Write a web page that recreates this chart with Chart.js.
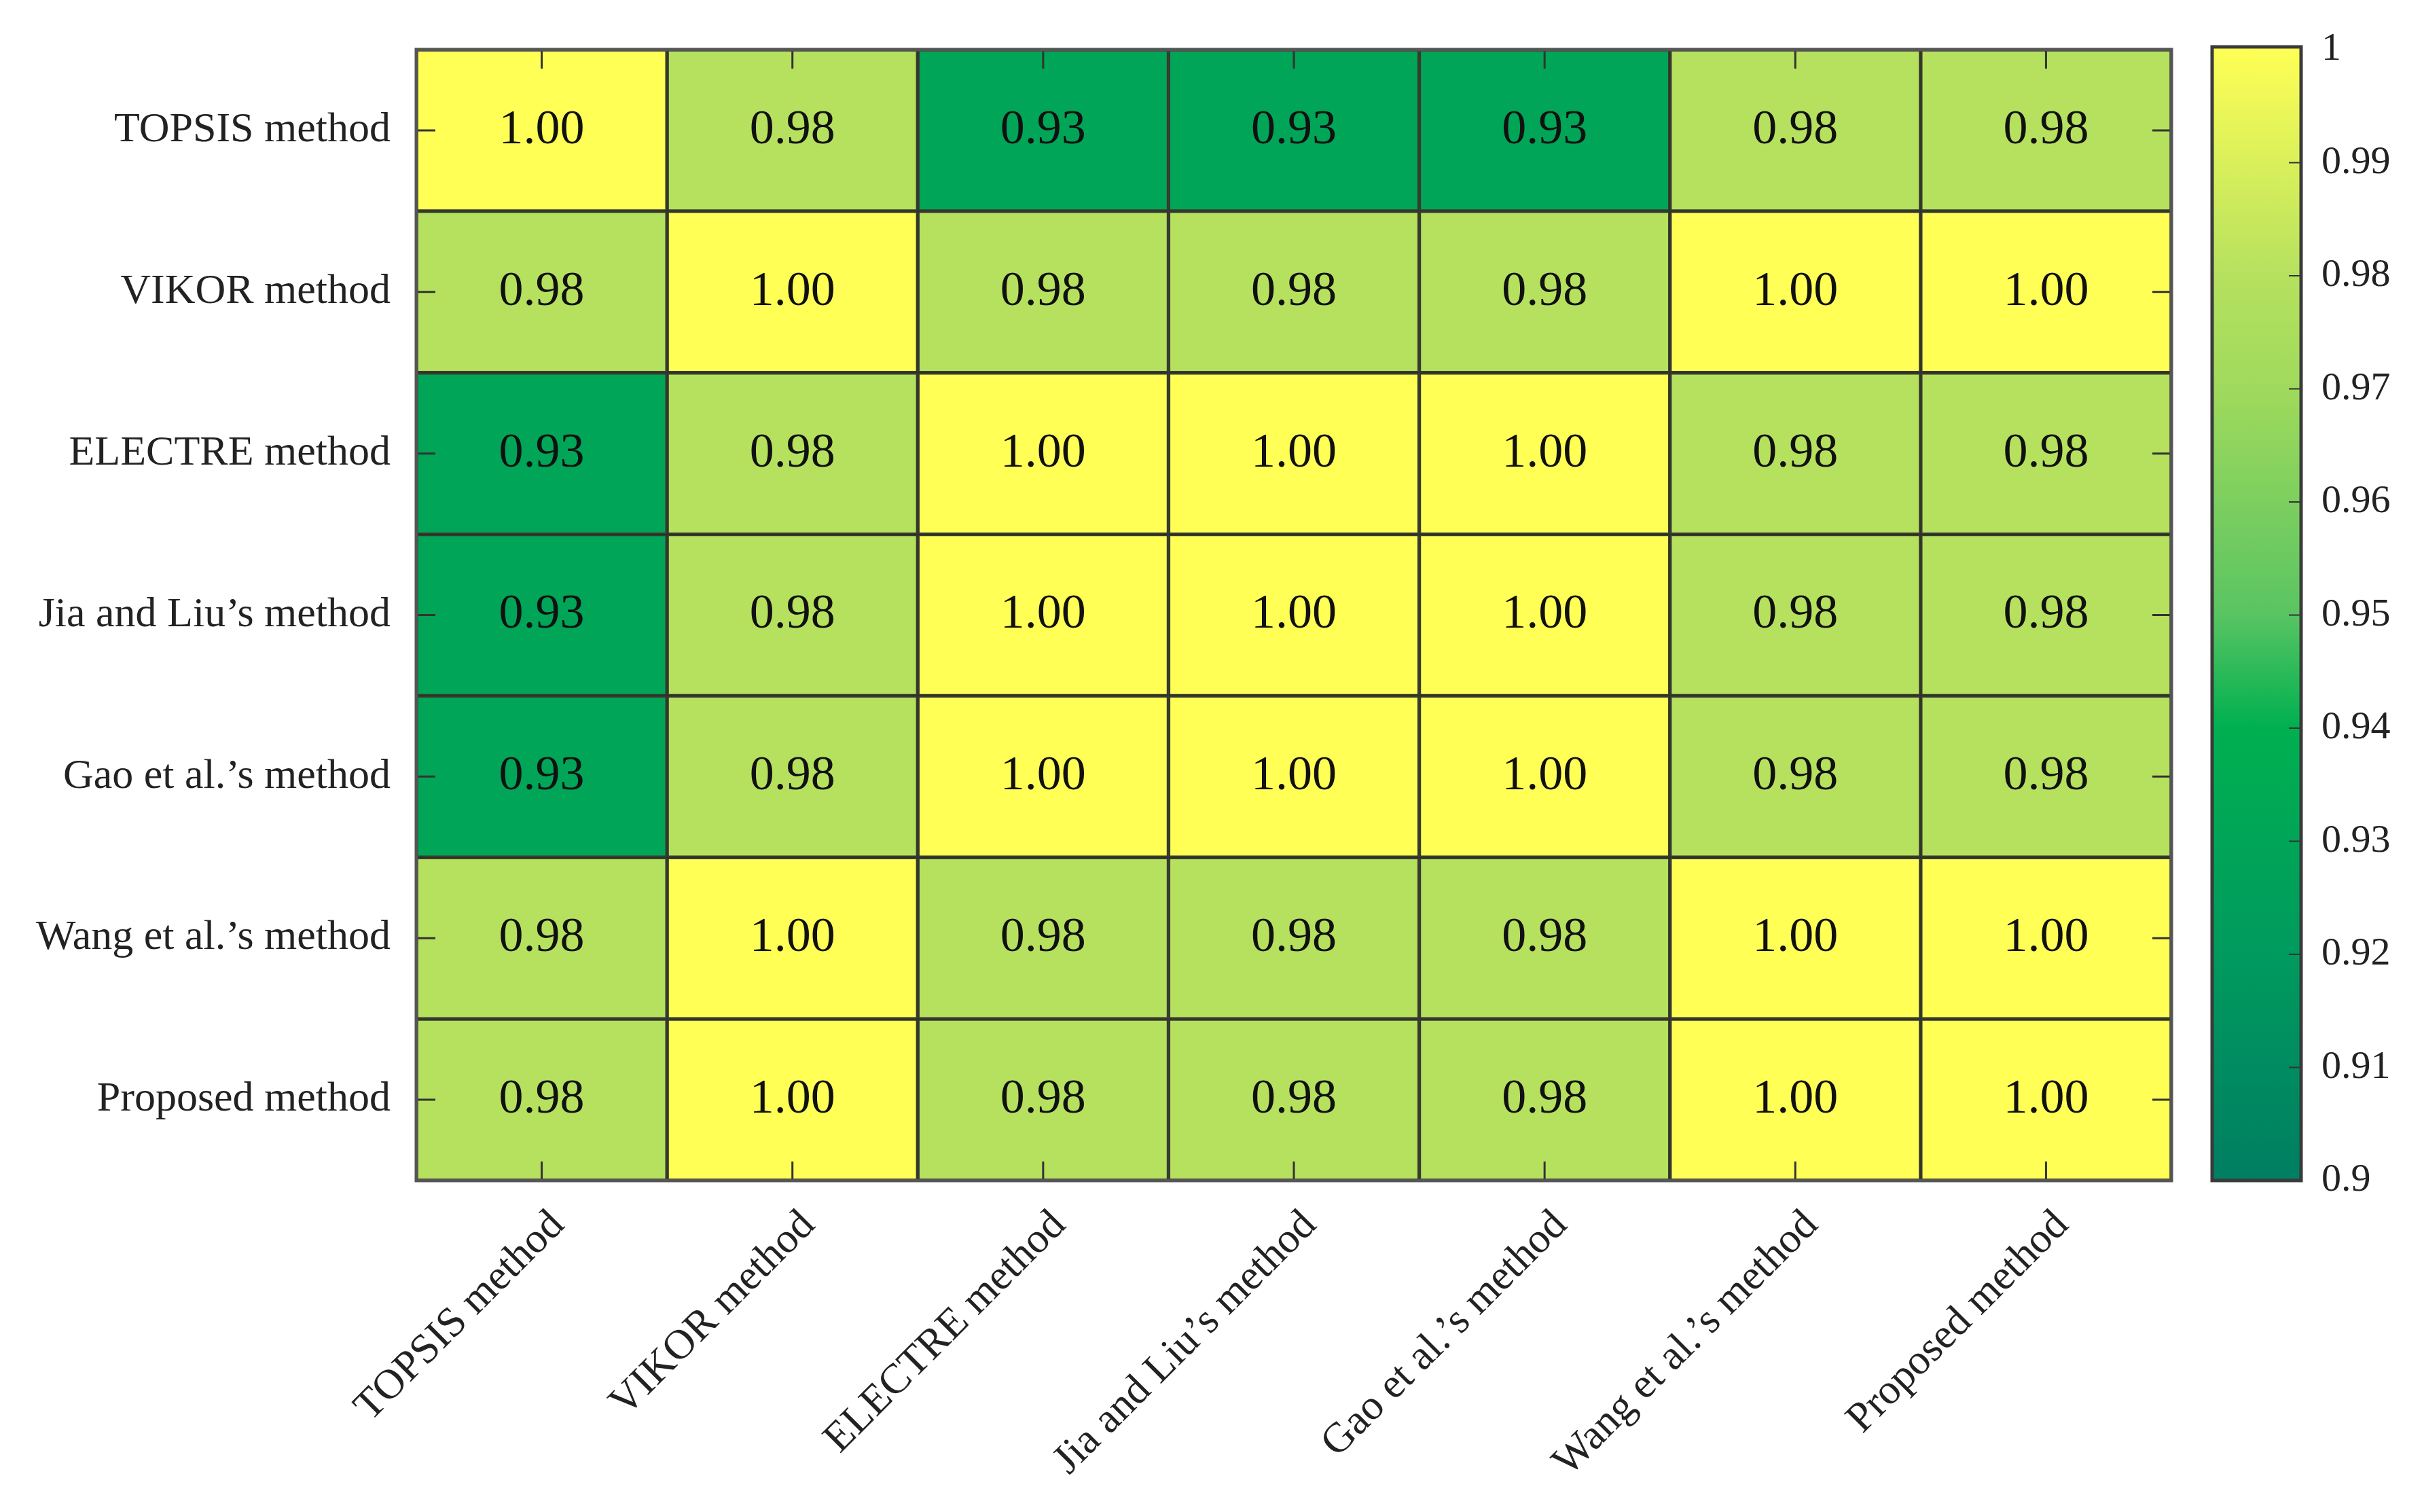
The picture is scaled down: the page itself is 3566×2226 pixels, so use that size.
<!DOCTYPE html>
<html>
<head>
<meta charset="utf-8">
<script src="https://cdn.jsdelivr.net/npm/chart.js@4.4.1/dist/chart.umd.min.js"></script>
<style>
  html, body { margin: 0; padding: 0; background: #fff; }
  canvas { display: block; }
</style>
</head>
<body>
<canvas id="heat" width="3566" height="2226"></canvas>
<script>
// methods, top row first (same order on both axes)
const methods = ['TOPSIS method', 'VIKOR method', 'ELECTRE method', 'Jia and Liu\u2019s method',
                 'Gao et al.\u2019s method', 'Wang et al.\u2019s method', 'Proposed method'];

// similarity values, one array per row
const topsisRow   = [1.00, 0.98, 0.93, 0.93, 0.93, 0.98, 0.98];
const vikorRow    = [0.98, 1.00, 0.98, 0.98, 0.98, 1.00, 1.00];
const electreRow  = [0.93, 0.98, 1.00, 1.00, 1.00, 0.98, 0.98];
const jiaLiuRow   = [0.93, 0.98, 1.00, 1.00, 1.00, 0.98, 0.98];
const gaoRow      = [0.93, 0.98, 1.00, 1.00, 1.00, 0.98, 0.98];
const wangRow     = [0.98, 1.00, 0.98, 0.98, 0.98, 1.00, 1.00];
const proposedRow = [0.98, 1.00, 0.98, 0.98, 0.98, 1.00, 1.00];
const rows = [topsisRow, vikorRow, electreRow, jiaLiuRow, gaoRow, wangRow, proposedRow];

// colour bar
const cbTicks  = [0.9, 0.91, 0.92, 0.93, 0.94, 0.95, 0.96, 0.97, 0.98, 0.99, 1];
const cbLabels = ['0.9', '0.91', '0.92', '0.93', '0.94', '0.95', '0.96', '0.97', '0.98', '0.99', '1'];
const cbStops = [
  [0.90, [0, 126, 98]],
  [0.92, [0, 154, 94]],
  [0.94, [0, 176, 80]],
  [0.95, [90, 196, 98]],
  [0.97, [160, 218, 92]],
  [0.98, [182, 225, 95]],
  [1.00, [255, 255, 85]]
];

function colorFor(v) {
  if (v <= cbStops[0][0]) return 'rgb(' + cbStops[0][1].join(',') + ')';
  for (let i = 1; i < cbStops.length; i++) {
    const a = cbStops[i - 1], b = cbStops[i];
    if (v <= b[0] + 1e-9) {
      const t = (v - a[0]) / (b[0] - a[0]);
      const c = a[1].map((x, k) => Math.round(x + (b[1][k] - x) * t));
      return 'rgb(' + c.join(',') + ')';
    }
  }
  return 'rgb(' + cbStops[cbStops.length - 1][1].join(',') + ')';
}

const serif = 'Liberation Serif';
const textCol = '#222';

const datasets = rows.map((row, r) => ({
  label: methods[r],
  data: row.map(() => [r - 0.5, r + 0.5]),
  values: row,
  backgroundColor: row.map(colorFor),
  borderColor: 'rgba(20,25,10,0.85)',
  borderWidth: 3,
  borderSkipped: false,
  barPercentage: 1,
  categoryPercentage: 1,
  grouped: false
}));

const cellText = {
  id: 'cellText',
  afterDatasetsDraw(chart) {
    const ctx = chart.ctx;
    ctx.save();
    ctx.font = '72px "' + serif + '"';
    ctx.fillStyle = '#111';
    ctx.textAlign = 'center';
    ctx.textBaseline = 'middle';
    chart.data.datasets.forEach((ds, di) => {
      chart.getDatasetMeta(di).data.forEach((bar, i) => {
        ctx.fillText(ds.values[i].toFixed(2), bar.x, (bar.y + bar.base) / 2);
      });
    });
    ctx.restore();
  }
};

const frame = {
  id: 'frame',
  afterDraw(chart) {
    const ctx = chart.ctx;
    const a = chart.chartArea;
    const xs = chart.scales.x, ys = chart.scales.y, cb = chart.scales.cb;
    ctx.save();
    // inner ticks of the heat map
    ctx.strokeStyle = '#333';
    ctx.lineWidth = 3;
    ctx.beginPath();
    methods.forEach((m, i) => {
      const x = xs.getPixelForValue(i);
      ctx.moveTo(x, a.top); ctx.lineTo(x, a.top + 28);
      ctx.moveTo(x, a.bottom); ctx.lineTo(x, a.bottom - 28);
      const y = ys.getPixelForValue(i);
      ctx.moveTo(a.left, y); ctx.lineTo(a.left + 28, y);
      ctx.moveTo(a.right, y); ctx.lineTo(a.right - 28, y);
    });
    ctx.stroke();
    ctx.strokeStyle = '#555';
    ctx.lineWidth = 5;
    ctx.strokeRect(a.left, a.top, a.right - a.left, a.bottom - a.top);

    // colour bar
    const x0 = a.right + 60, x1 = a.right + 191;
    const yTop = cb.getPixelForValue(1) - 4, yBot = cb.getPixelForValue(0.9);
    const g = ctx.createLinearGradient(0, yBot, 0, yTop);
    cbStops.forEach(s => g.addColorStop((s[0] - 0.9) / 0.1, 'rgb(' + s[1].join(',') + ')'));
    ctx.fillStyle = g;
    ctx.fillRect(x0, yTop, x1 - x0, yBot - yTop);
    ctx.strokeStyle = '#333';
    ctx.lineWidth = 2;
    ctx.beginPath();
    cbTicks.slice(1, -1).forEach(v => {
      const y = cb.getPixelForValue(v);
      ctx.moveTo(x1, y); ctx.lineTo(x1 - 18, y);
    });
    ctx.stroke();
    ctx.lineWidth = 5;
    ctx.strokeStyle = '#3a3a3a';
    ctx.strokeRect(x0, yTop, x1 - x0, yBot - yTop);
    ctx.restore();
  }
};

function noPad(s) {
  s.paddingTop = 0; s.paddingBottom = 0; s.paddingLeft = 0; s.paddingRight = 0;
}

new Chart(document.getElementById('heat'), {
  type: 'bar',
  data: { labels: methods, datasets: datasets },
  options: {
    responsive: false,
    devicePixelRatio: 1,
    animation: false,
    layout: { padding: { top: 73, left: 0, right: 0, bottom: 0 } },
    plugins: { legend: { display: false }, tooltip: { enabled: false } },
    scales: {
      x: {
        type: 'category',
        grid: { display: false },
        border: { display: false },
        ticks: {
          autoSkip: false,
          maxRotation: 45,
          minRotation: 45,
          padding: 22,
          labelOffset: 24,
          color: textCol,
          font: { family: serif, size: 62 }
        },
        afterFit(s) { s.height = 488; noPad(s); }
      },
      y: {
        type: 'linear',
        reverse: true,
        min: -0.5,
        max: 6.5,
        grid: { display: false },
        border: { display: false },
        afterBuildTicks(s) { s.ticks = methods.map((m, i) => ({ value: i })); },
        ticks: {
          padding: 30,
          color: textCol,
          font: { family: serif, size: 62 },
          callback: v => methods[v]
        },
        afterFit(s) { s.width = 613; noPad(s); }
      },
      cb: {
        type: 'linear',
        position: 'right',
        min: 0.9,
        max: 1,
        grid: { display: false },
        border: { display: false },
        afterBuildTicks(s) { s.ticks = cbTicks.map(v => ({ value: v })); },
        ticks: {
          padding: 213,
          color: textCol,
          font: { family: serif, size: 58 },
          callback: v => cbLabels[cbTicks.indexOf(v)]
        },
        afterFit(s) { s.width = 369; noPad(s); }
      }
    }
  },
  plugins: [cellText, frame]
});
</script>
</body>
</html>
